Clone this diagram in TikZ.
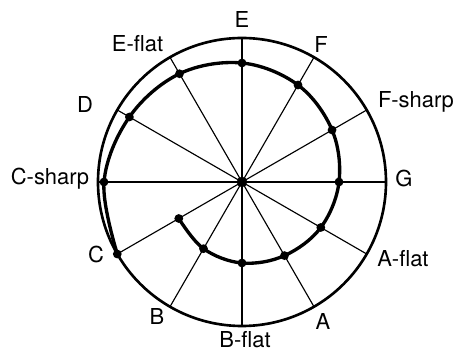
\documentclass[tikz,border=0pt]{standalone}
\usepackage{fontspec}
\setmainfont{TeX Gyre Heros}
\usetikzlibrary{positioning}
\tikzset{spoke/.style={line width=0.65pt},
  rim/.style={line width=1.5pt},
  spiral/.style={line width=1.9pt,line join=round,line cap=round},
  dot/.style={circle,fill,inner sep=0pt,minimum size=5pt},
  note/.style={font=\fontsize{12.5}{14}\selectfont,anchor=base,inner sep=0pt}}

\begin{document}
\begin{tikzpicture}[x=0.02cm, y=0.02cm]
\useasboundingbox (-242,-169) rectangle (215,182);
\coordinate (O) at (0,0);
\draw[rim] (O) circle (144);
% twelve spokes, one per pitch class
\foreach \a/\n in {-150/0,-120/1,-90/2,-60/3,-30/4,0/5,30/6,60/7,90/8,120/9,150/10,180/11} {
  \coordinate (rim\n) at (\a:144);
  \draw[spoke] (O) -- (rim\n);
}
% points of the spiral
\foreach \a/\r/\n in {-150/73/0,-120/77/1,-90/81/2,-60/85/3,-30/91/4,0/97/5,
  30/104/6,60/112/7,90/119/8,120/125/9,150/130/10,180/138/11,210/144/12}
  \coordinate (s\n) at (\a:\r);
\draw[spiral] plot[smooth,tension=0.6] coordinates {(s0) (s1) (s2) (s3) (s4)
  (s5) (s6) (s7) (s8) (s9) (s10) (s11) (s12)};
\foreach \n in {0,...,12}
  \node[dot] (d\n) at (s\n) {};
\node[dot,minimum size=6pt] (hub) at (O) {};
% note names
\node[note] (lE) at (0,154) {E};
\node[note] (lF) at (79,129) {F};
\node[note] (lFs) at (174,74) {F-sharp};
\node[note] (lG) at (162,-5) {G};
\node[note] (lAb) at (161,-85) {A-flat};
\node[note] (lA) at (81,-148) {A};
\node[note] (lBb) at (3,-166) {B-flat};
\node[note] (lB) at (-85,-143) {B};
\node[note] (lC) at (-146,-81) {C};
\node[note] (lCs) at (-192,-3) {C-sharp};
\node[note] (lD) at (-157,69) {D};
\node[note] (lEb) at (-104.5,130) {E-flat};
\end{tikzpicture}
\end{document}
